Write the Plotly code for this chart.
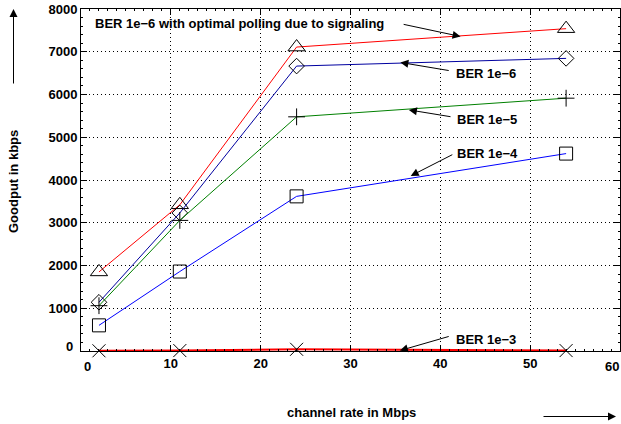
import plotly.graph_objects as go

# channel rates (Mbps)
rates = [2, 11, 24, 54]
# goodput (kbps)
ber6_opt = [1850, 3420, 7110, 7540]
ber6 = [1140, 3230, 6665, 6845]
ber5 = [1060, 3055, 5478, 5914]
ber4 = [600, 1859, 3617, 4618]
ber3 = [5, 10, 40, 10]

x_ticks = [0, 10, 20, 30, 40, 50, 60]
y_ticks = [0, 1000, 2000, 3000, 4000, 5000, 6000, 7000, 8000]

FONT = "Liberation Sans"
FS = 13

fig = go.Figure()

def add(y, color, symbol, size, width=1):
    fig.add_trace(go.Scatter(
        x=rates, y=y, mode="lines+markers",
        line=dict(color=color, width=width),
        marker=dict(symbol=symbol, size=size, color="black",
                    line=dict(width=1, color="black")),
        showlegend=False, cliponaxis=False))

add(ber6_opt, "#ff0000", "triangle-up-open", 15)
add(ber6, "#0000a0", "diamond-open", 12)
add(ber5, "#008000", "cross-thin-open", 12)
add(ber4, "#0000ff", "square-open", 13)
add(ber3, "#ff0000", "x-thin-open", 13, width=2)

axis_common = dict(
    showline=True, linecolor="black", linewidth=1, mirror="ticks",
    ticks="inside", ticklen=6, tickcolor="black", tickwidth=1,
    showgrid=True, gridcolor="black", gridwidth=1, griddash="1px,3px",
    zeroline=False,
    tickfont=dict(family=FONT, size=FS, color="black", weight="bold"),
)

# edge labels ("0" and "60") are placed separately below, as in the original
x_text = ["" if v in (0, 60) else str(v) for v in x_ticks]
y_text = ["" if v == 0 else str(v) for v in y_ticks]

fig.update_xaxes(range=[0, 60], tickvals=x_ticks, ticktext=x_text,
                 minor=dict(ticks="inside", ticklen=2, dtick=1, tickcolor="black", showgrid=False),
                 **axis_common)
fig.update_yaxes(range=[0, 8000], tickvals=y_ticks, ticktext=y_text,
                 minor=dict(ticks="inside", ticklen=2, dtick=200, tickcolor="black", showgrid=False),
                 **axis_common)

tick_font = dict(family=FONT, size=FS, color="black", weight="bold")
# x "0" label (shifted right), x "60" label (shifted left), y "0" label (shifted up)
fig.add_annotation(x=x_ticks[0], y=0, xref="x", yref="paper", text=str(x_ticks[0]),
                   showarrow=False, xanchor="center", yanchor="middle",
                   xshift=6, yshift=-15, font=tick_font)
fig.add_annotation(x=x_ticks[-1], y=0, xref="x", yref="paper", text=str(x_ticks[-1]),
                   showarrow=False, xanchor="right", yanchor="middle",
                   xshift=1, yshift=-15, font=tick_font)
fig.add_annotation(x=0, y=y_ticks[0], xref="paper", yref="y", text=str(y_ticks[0]),
                   showarrow=False, xanchor="right", yanchor="middle",
                   xshift=-6, yshift=5, font=tick_font)

anno_font = dict(family=FONT, size=FS, color="black", weight="bold")

# text labels (data coordinates)
labels = [
    ("BER 1e\u22126 with optimal polling due to signaling", 1.35, 7670),
    ("BER 1e\u22126", 41.5, 6500),
    ("BER 1e\u22125", 41.6, 5425),
    ("BER 1e\u22124", 41.6, 4610),
    ("BER 1e\u22123", 41.5, 280),
]
for t, lx, ly in labels:
    fig.add_annotation(x=lx, y=ly, text=t, showarrow=False, xanchor="left",
                       yanchor="middle", font=anno_font)

# arrows: (head_x, head_y, tail_x, tail_y) in data coordinates
arrows = [
    (42.25, 7357, 35.75, 7648),
    (35.55, 6750, 41.1, 6555),
    (36.5, 5640, 41.3, 5475),
    (36.7, 4096, 41.5, 4610),
    (35.5, 10, 41.1, 350),
]
for hx, hy, tx, ty in arrows:
    fig.add_annotation(x=hx, y=hy, ax=tx, ay=ty, axref="x", ayref="y",
                       text="", showarrow=True, arrowhead=2, arrowsize=1.6,
                       arrowwidth=1, arrowcolor="black")

# axis titles
fig.add_annotation(x=(14 - 81) / 539, y=(351 - 182) / 342, xref="paper", yref="paper",
                   text="Goodput in kbps", textangle=-90, showarrow=False,
                   font=anno_font, xanchor="center", yanchor="middle")
fig.add_annotation(x=(351 - 81) / 539, y=(351 - 412) / 342, xref="paper", yref="paper",
                   text="channel rate in Mbps", showarrow=False,
                   font=anno_font, xanchor="center", yanchor="middle")

# decorative direction arrows
fig.add_annotation(x=(13.5 - 81) / 539, y=(351 - 9) / 342, xref="paper", yref="paper",
                   ax=0, ay=76, text="", showarrow=True, arrowhead=2, arrowsize=1.6,
                   arrowwidth=1, arrowcolor="black")
fig.add_annotation(x=(616 - 81) / 539, y=(351 - 416.5) / 342, xref="paper", yref="paper",
                   ax=-74, ay=0, text="", showarrow=True, arrowhead=2, arrowsize=1.6,
                   arrowwidth=1, arrowcolor="black")

fig.update_layout(
    width=621, height=424,
    margin=dict(l=81, r=1, t=9, b=73),
    paper_bgcolor="white", plot_bgcolor="white",
    font=dict(family=FONT, size=FS, color="black"),
)

fig.write_html("out.html")
